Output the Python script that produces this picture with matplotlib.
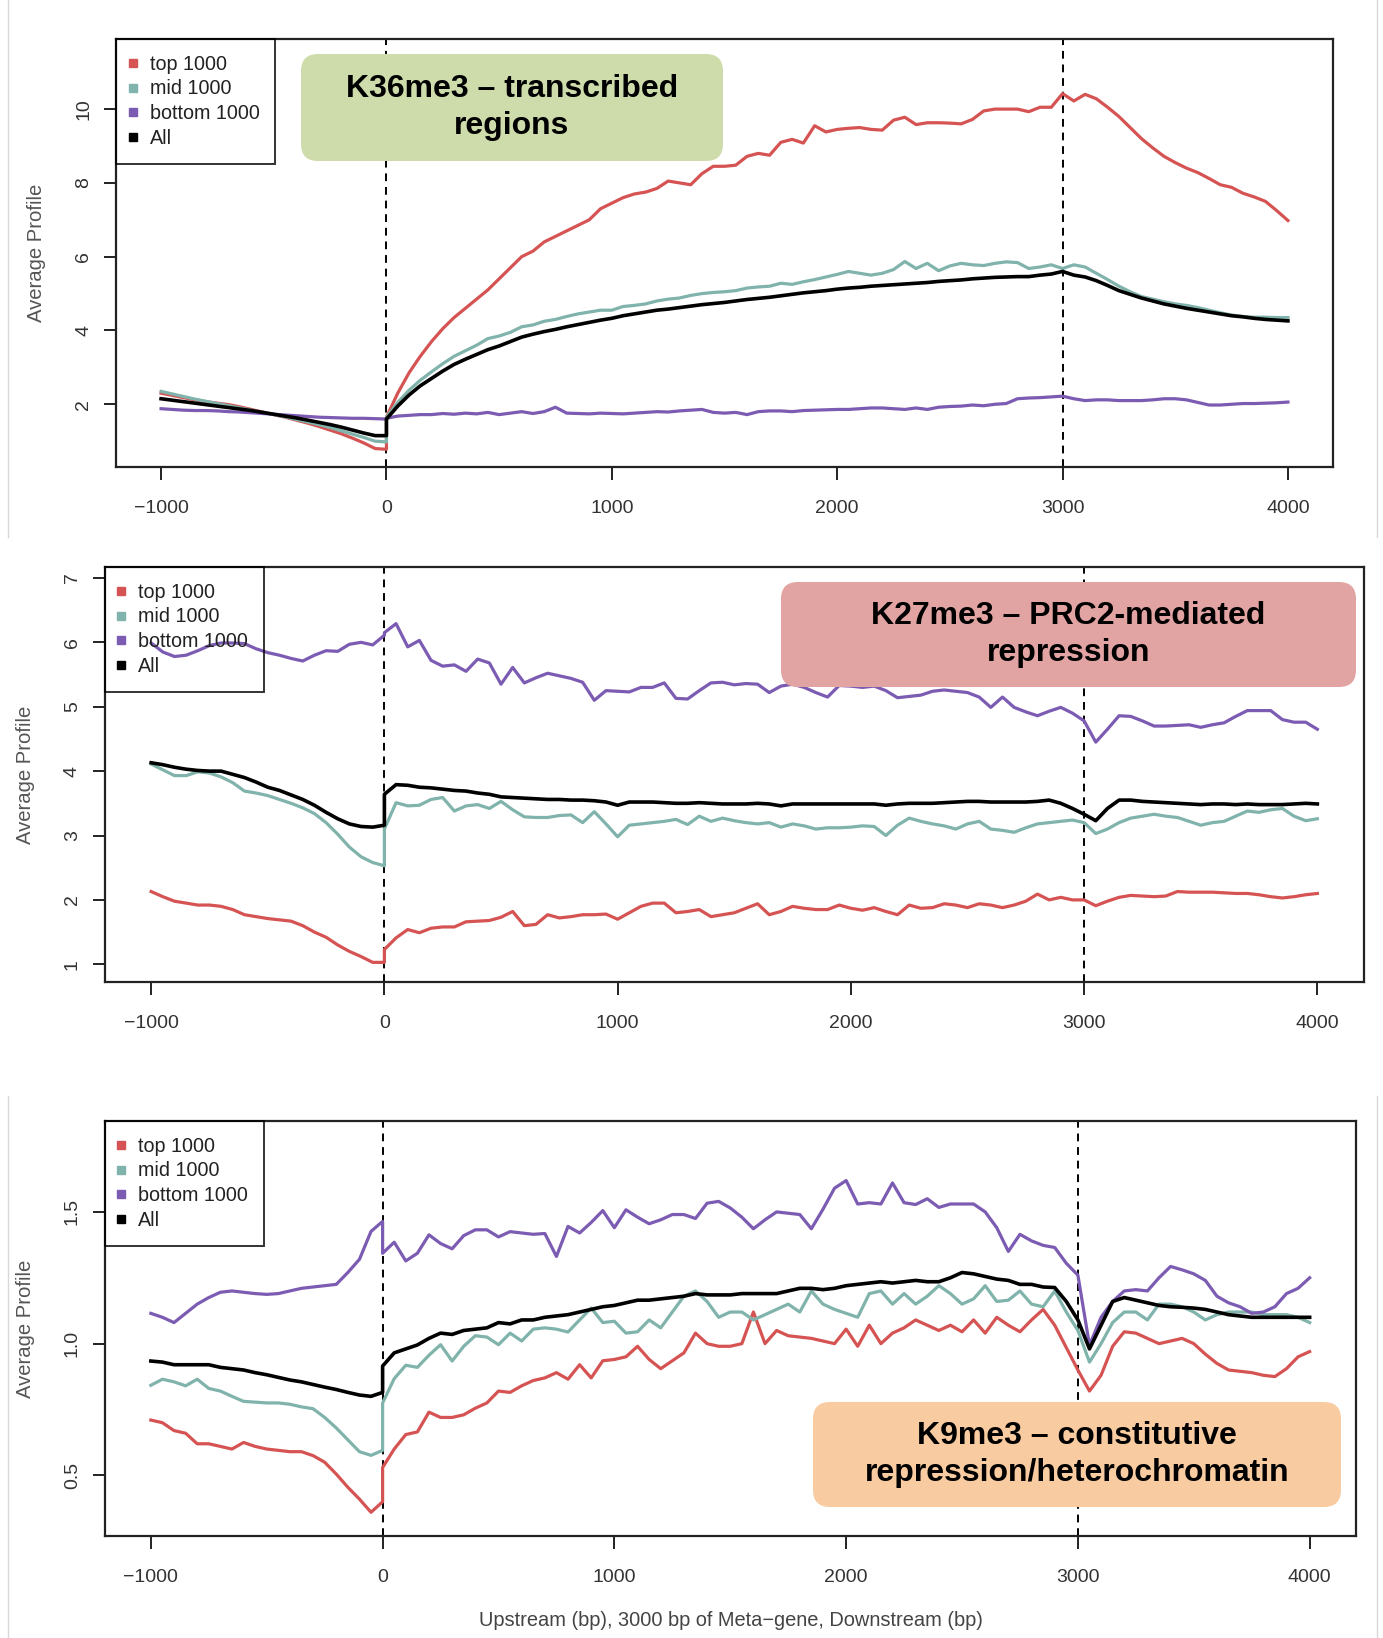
import numpy as np
import matplotlib
matplotlib.use("Agg")
import matplotlib.pyplot as plt
from matplotlib.patches import FancyBboxPatch
from matplotlib.lines import Line2D

plt.rcParams['font.family'] = ['Liberation Sans', 'DejaVu Sans']
plt.rcParams['axes.unicode_minus'] = False

# 50 bp bins: 1 kb upstream of TSS, then the scaled 3000 bp meta-gene and 1 kb downstream
X_UP = np.arange(-1000, 1, 50)
X_BODY = np.arange(0, 4001, 50)

GROUPS = ["top 1000", "mid 1000", "bottom 1000", "All"]
COLORS = ["#d65353", "#80b3ab", "#7c5bb3", "#000000"]

# ---- H3K36me3 ----
K36_TOP_UP = [2.30, 2.24, 2.18, 2.12, 2.07, 2.03, 1.99, 1.93, 1.86, 1.79, 1.72,
              1.65, 1.57, 1.49, 1.40, 1.30, 1.20, 1.08, 0.95, 0.80, 0.78]
K36_TOP_BODY = [1.65, 2.30, 2.85, 3.30, 3.70, 4.05, 4.35, 4.60, 4.85, 5.10,
                5.40, 5.70, 6.00, 6.15, 6.40, 6.55, 6.70, 6.85, 7.00, 7.30,
                7.45, 7.60, 7.70, 7.75, 7.85, 8.05, 8.00, 7.95, 8.25, 8.45,
                8.45, 8.48, 8.72, 8.80, 8.75, 9.10, 9.18, 9.08, 9.55, 9.38,
                9.45, 9.48, 9.50, 9.45, 9.43, 9.70, 9.78, 9.58, 9.63, 9.63,
                9.62, 9.60, 9.72, 9.95, 10.00, 10.00, 10.00, 9.93, 10.05, 10.05,
                10.42, 10.22, 10.40, 10.28, 10.05, 9.80, 9.50, 9.20, 8.95, 8.72,
                8.55, 8.40, 8.28, 8.12, 7.95, 7.88, 7.72, 7.62, 7.50, 7.25,
                6.98]
K36_MID_UP = [2.35, 2.28, 2.21, 2.14, 2.08, 2.02, 1.96, 1.90, 1.84, 1.78, 1.72,
              1.66, 1.59, 1.52, 1.45, 1.37, 1.28, 1.19, 1.10, 1.00, 0.98]
K36_MID_BODY = [1.65, 2.05, 2.38, 2.65, 2.88, 3.10, 3.30, 3.45, 3.60, 3.78,
                3.85, 3.95, 4.10, 4.15, 4.25, 4.30, 4.38, 4.45, 4.50, 4.55,
                4.55, 4.65, 4.68, 4.72, 4.80, 4.85, 4.88, 4.95, 5.00, 5.03,
                5.05, 5.08, 5.15, 5.18, 5.20, 5.28, 5.25, 5.32, 5.38, 5.45,
                5.52, 5.60, 5.55, 5.50, 5.55, 5.65, 5.87, 5.68, 5.82, 5.62,
                5.75, 5.82, 5.78, 5.76, 5.82, 5.86, 5.84, 5.68, 5.72, 5.78,
                5.68, 5.78, 5.72, 5.55, 5.38, 5.20, 5.05, 4.92, 4.85, 4.78,
                4.72, 4.68, 4.62, 4.55, 4.48, 4.42, 4.38, 4.36, 4.36, 4.35,
                4.35]
K36_BOTTOM_UP = [1.88, 1.86, 1.84, 1.83, 1.83, 1.82, 1.80, 1.79, 1.77, 1.75, 1.73,
                 1.71, 1.69, 1.67, 1.65, 1.64, 1.63, 1.62, 1.62, 1.61, 1.60]
K36_BOTTOM_BODY = [1.62, 1.68, 1.70, 1.72, 1.72, 1.75, 1.73, 1.76, 1.74, 1.78,
                   1.72, 1.76, 1.80, 1.75, 1.80, 1.92, 1.76, 1.75, 1.74, 1.76,
                   1.75, 1.74, 1.76, 1.78, 1.80, 1.79, 1.82, 1.84, 1.86, 1.78,
                   1.76, 1.78, 1.72, 1.80, 1.82, 1.82, 1.80, 1.83, 1.84, 1.85,
                   1.86, 1.86, 1.88, 1.90, 1.90, 1.88, 1.86, 1.90, 1.86, 1.92,
                   1.94, 1.95, 1.98, 1.96, 2.00, 2.02, 2.15, 2.17, 2.18, 2.20,
                   2.22, 2.15, 2.10, 2.12, 2.12, 2.10, 2.10, 2.10, 2.12, 2.15,
                   2.15, 2.12, 2.05, 1.98, 1.98, 2.00, 2.02, 2.02, 2.03, 2.04,
                   2.06]
K36_ALL_UP = [2.15, 2.11, 2.07, 2.03, 1.99, 1.95, 1.91, 1.87, 1.83, 1.78, 1.73,
              1.68, 1.63, 1.57, 1.51, 1.45, 1.38, 1.30, 1.22, 1.15, 1.15]
K36_ALL_BODY = [1.60, 1.95, 2.25, 2.50, 2.70, 2.90, 3.08, 3.22, 3.35, 3.48,
                3.58, 3.70, 3.82, 3.90, 3.97, 4.03, 4.10, 4.16, 4.22, 4.28,
                4.33, 4.40, 4.45, 4.50, 4.55, 4.58, 4.62, 4.66, 4.70, 4.73,
                4.76, 4.80, 4.84, 4.87, 4.90, 4.94, 4.98, 5.02, 5.05, 5.08,
                5.12, 5.15, 5.17, 5.20, 5.22, 5.24, 5.26, 5.28, 5.30, 5.33,
                5.35, 5.37, 5.40, 5.42, 5.44, 5.45, 5.46, 5.46, 5.50, 5.53,
                5.60, 5.50, 5.45, 5.35, 5.22, 5.08, 4.98, 4.88, 4.80, 4.72,
                4.66, 4.60, 4.55, 4.50, 4.45, 4.40, 4.37, 4.33, 4.30, 4.28,
                4.26]

# ---- H3K27me3 ----
K27_TOP_UP = [2.13, 2.05, 1.98, 1.95, 1.92, 1.92, 1.90, 1.85, 1.77, 1.74, 1.71,
              1.69, 1.67, 1.60, 1.50, 1.42, 1.30, 1.20, 1.12, 1.03, 1.03]
K27_TOP_BODY = [1.23, 1.41, 1.54, 1.49, 1.56, 1.58, 1.58, 1.66, 1.67, 1.68,
                1.73, 1.82, 1.60, 1.62, 1.77, 1.72, 1.74, 1.77, 1.77, 1.78,
                1.70, 1.80, 1.90, 1.95, 1.95, 1.80, 1.82, 1.85, 1.74, 1.77,
                1.80, 1.87, 1.94, 1.77, 1.82, 1.90, 1.87, 1.85, 1.85, 1.92,
                1.87, 1.84, 1.88, 1.82, 1.77, 1.92, 1.87, 1.88, 1.94, 1.92,
                1.88, 1.94, 1.92, 1.88, 1.92, 1.98, 2.09, 2.00, 2.04, 2.00,
                2.00, 1.91, 1.98, 2.04, 2.07, 2.06, 2.05, 2.06, 2.13, 2.12,
                2.12, 2.12, 2.11, 2.10, 2.10, 2.08, 2.05, 2.03, 2.05, 2.08,
                2.10]
K27_MID_UP = [4.11, 4.02, 3.93, 3.93, 3.99, 3.97, 3.91, 3.82, 3.69, 3.66, 3.62,
              3.56, 3.50, 3.43, 3.34, 3.20, 3.02, 2.82, 2.67, 2.58, 2.53]
K27_MID_BODY = [3.10, 3.51, 3.46, 3.47, 3.56, 3.59, 3.38, 3.46, 3.48, 3.42,
                3.53, 3.40, 3.29, 3.28, 3.28, 3.31, 3.32, 3.20, 3.37, 3.18,
                2.98, 3.16, 3.18, 3.20, 3.22, 3.25, 3.17, 3.30, 3.22, 3.27,
                3.23, 3.20, 3.18, 3.20, 3.13, 3.18, 3.15, 3.10, 3.12, 3.12,
                3.13, 3.15, 3.14, 3.00, 3.16, 3.27, 3.22, 3.18, 3.15, 3.10,
                3.18, 3.22, 3.10, 3.08, 3.05, 3.12, 3.18, 3.20, 3.22, 3.24,
                3.20, 3.03, 3.10, 3.20, 3.27, 3.30, 3.33, 3.30, 3.28, 3.22,
                3.16, 3.20, 3.22, 3.30, 3.38, 3.36, 3.40, 3.42, 3.30, 3.23,
                3.26]
K27_BOTTOM_UP = [5.99, 5.85, 5.78, 5.80, 5.87, 5.95, 5.99, 5.99, 5.98, 5.90, 5.84,
                 5.80, 5.75, 5.71, 5.80, 5.87, 5.86, 5.97, 6.00, 5.96, 6.11]
K27_BOTTOM_BODY = [6.15, 6.29, 5.93, 6.03, 5.72, 5.63, 5.65, 5.55, 5.74, 5.68,
                   5.35, 5.61, 5.37, 5.45, 5.52, 5.48, 5.44, 5.38, 5.10, 5.25,
                   5.24, 5.23, 5.30, 5.30, 5.37, 5.13, 5.12, 5.25, 5.37, 5.38,
                   5.34, 5.36, 5.35, 5.22, 5.32, 5.35, 5.30, 5.22, 5.15, 5.33,
                   5.32, 5.30, 5.32, 5.25, 5.14, 5.16, 5.18, 5.24, 5.26, 5.24,
                   5.22, 5.15, 4.99, 5.15, 4.99, 4.92, 4.86, 4.93, 4.99, 4.90,
                   4.78, 4.45, 4.65, 4.86, 4.85, 4.78, 4.70, 4.70, 4.71, 4.72,
                   4.68, 4.72, 4.75, 4.85, 4.94, 4.94, 4.94, 4.80, 4.76, 4.76,
                   4.65]
K27_ALL_UP = [4.13, 4.10, 4.06, 4.03, 4.01, 4.00, 4.00, 3.95, 3.90, 3.83, 3.75,
              3.70, 3.63, 3.56, 3.47, 3.36, 3.26, 3.18, 3.14, 3.13, 3.16]
K27_ALL_BODY = [3.64, 3.79, 3.78, 3.75, 3.74, 3.72, 3.70, 3.69, 3.66, 3.64,
                3.60, 3.59, 3.58, 3.57, 3.56, 3.56, 3.55, 3.55, 3.54, 3.52,
                3.47, 3.52, 3.52, 3.52, 3.51, 3.50, 3.50, 3.51, 3.50, 3.49,
                3.49, 3.49, 3.50, 3.49, 3.46, 3.49, 3.49, 3.49, 3.49, 3.49,
                3.49, 3.49, 3.49, 3.47, 3.49, 3.50, 3.50, 3.50, 3.51, 3.52,
                3.53, 3.53, 3.52, 3.52, 3.52, 3.52, 3.53, 3.55, 3.50, 3.42,
                3.33, 3.23, 3.42, 3.55, 3.55, 3.53, 3.52, 3.51, 3.50, 3.49,
                3.48, 3.49, 3.49, 3.48, 3.49, 3.48, 3.48, 3.48, 3.49, 3.50,
                3.49]

# ---- H3K9me3 ----
K9_TOP_UP = [0.71, 0.70, 0.67, 0.66, 0.62, 0.62, 0.61, 0.60, 0.625, 0.61, 0.60,
             0.595, 0.59, 0.59, 0.575, 0.55, 0.505, 0.455, 0.41, 0.36, 0.40]
K9_TOP_BODY = [0.53, 0.60, 0.655, 0.665, 0.74, 0.72, 0.72, 0.73, 0.755, 0.775,
               0.82, 0.815, 0.84, 0.86, 0.87, 0.89, 0.865, 0.92, 0.87, 0.935,
               0.94, 0.95, 0.99, 0.94, 0.905, 0.935, 0.965, 1.04, 1.00, 0.99,
               0.99, 1.00, 1.12, 1.00, 1.05, 1.03, 1.025, 1.02, 1.01, 1.00,
               1.055, 0.99, 1.07, 1.00, 1.04, 1.06, 1.09, 1.07, 1.05, 1.07,
               1.045, 1.09, 1.04, 1.10, 1.07, 1.045, 1.09, 1.13, 1.07, 0.985,
               0.90, 0.82, 0.88, 0.99, 1.045, 1.04, 1.02, 1.00, 1.01, 1.02,
               1.00, 0.96, 0.925, 0.90, 0.895, 0.89, 0.88, 0.875, 0.905, 0.95,
               0.97]
K9_MID_UP = [0.842, 0.865, 0.855, 0.84, 0.865, 0.83, 0.82, 0.80, 0.781, 0.778, 0.775,
             0.775, 0.77, 0.76, 0.753, 0.72, 0.68, 0.635, 0.59, 0.576, 0.595]
K9_MID_BODY = [0.775, 0.867, 0.918, 0.91, 0.956, 0.996, 0.934, 0.99, 1.03, 1.025,
               0.996, 1.04, 1.01, 1.055, 1.06, 1.055, 1.044, 1.09, 1.135, 1.08,
               1.085, 1.04, 1.045, 1.09, 1.06, 1.12, 1.18, 1.20, 1.16, 1.10,
               1.12, 1.12, 1.09, 1.11, 1.13, 1.15, 1.12, 1.20, 1.15, 1.13,
               1.115, 1.10, 1.19, 1.20, 1.15, 1.19, 1.15, 1.18, 1.22, 1.19,
               1.15, 1.17, 1.22, 1.16, 1.165, 1.20, 1.15, 1.14, 1.20, 1.12,
               1.05, 0.93, 1.00, 1.08, 1.12, 1.12, 1.09, 1.15, 1.15, 1.14,
               1.12, 1.09, 1.11, 1.12, 1.12, 1.12, 1.11, 1.11, 1.11, 1.10,
               1.08]
K9_BOTTOM_UP = [1.115, 1.10, 1.08, 1.115, 1.15, 1.175, 1.195, 1.20, 1.195, 1.19, 1.187,
                1.19, 1.20, 1.21, 1.215, 1.22, 1.225, 1.27, 1.32, 1.426, 1.464]
K9_BOTTOM_BODY = [1.343, 1.385, 1.314, 1.343, 1.413, 1.38, 1.36, 1.41, 1.432, 1.432,
                  1.405, 1.425, 1.42, 1.415, 1.418, 1.331, 1.445, 1.42, 1.46, 1.505,
                  1.44, 1.508, 1.48, 1.455, 1.47, 1.49, 1.49, 1.475, 1.533, 1.54,
                  1.515, 1.48, 1.436, 1.47, 1.50, 1.495, 1.49, 1.436, 1.51, 1.59,
                  1.619, 1.53, 1.535, 1.53, 1.61, 1.535, 1.528, 1.55, 1.517, 1.53,
                  1.53, 1.53, 1.50, 1.44, 1.35, 1.415, 1.39, 1.373, 1.365, 1.305,
                  1.26, 0.994, 1.10, 1.16, 1.20, 1.205, 1.20, 1.25, 1.293, 1.28,
                  1.265, 1.24, 1.18, 1.155, 1.14, 1.115, 1.12, 1.14, 1.19, 1.21,
                  1.25]
K9_ALL_UP = [0.934, 0.93, 0.92, 0.92, 0.92, 0.92, 0.91, 0.905, 0.90, 0.89, 0.882,
             0.872, 0.862, 0.855, 0.845, 0.835, 0.826, 0.815, 0.805, 0.80, 0.815]
K9_ALL_BODY = [0.915, 0.965, 0.98, 0.995, 1.02, 1.04, 1.035, 1.05, 1.055, 1.06,
               1.08, 1.075, 1.09, 1.09, 1.10, 1.105, 1.11, 1.12, 1.13, 1.14,
               1.145, 1.155, 1.165, 1.165, 1.17, 1.175, 1.18, 1.19, 1.185, 1.185,
               1.185, 1.19, 1.19, 1.19, 1.19, 1.20, 1.21, 1.21, 1.205, 1.21,
               1.22, 1.225, 1.23, 1.235, 1.23, 1.235, 1.24, 1.235, 1.235, 1.25,
               1.27, 1.265, 1.255, 1.245, 1.24, 1.225, 1.225, 1.215, 1.213, 1.16,
               1.09, 0.98, 1.07, 1.16, 1.175, 1.165, 1.155, 1.145, 1.14, 1.138,
               1.135, 1.13, 1.12, 1.11, 1.105, 1.10, 1.10, 1.10, 1.10, 1.10,
               1.10]

W, H = 1383, 1638
fig = plt.figure(figsize=(W / 100, H / 100), dpi=100)
fig.patch.set_facecolor("white")


def px_rect(left, top, right, bottom):
    return [left / W, 1 - bottom / H, (right - left) / W, (bottom - top) / H]


def draw_panel(rect, series, ylim, yticks, yticklabels):
    ax = fig.add_axes(px_rect(*rect))
    for (up, body), color in zip(series, COLORS):
        x = np.concatenate([X_UP, X_BODY])
        y = np.concatenate([up, body])
        lw = 2.6 if color == "#000000" else 2.3
        ax.plot(x, y, color=color, lw=lw, solid_joinstyle="round")
    for xv in (0, 3000):
        ax.axvline(xv, color="black", lw=1.4, ls=(0, (4, 3)), zorder=1)
    ax.set_xlim(-1200, 4200)
    ax.set_ylim(*ylim)
    ax.set_xticks([-1000, 0, 1000, 2000, 3000, 4000])
    ax.set_xticklabels(["\u22121000", "0", "1000", "2000", "3000", "4000"])
    ax.set_yticks(yticks)
    ax.set_yticklabels(yticklabels)
    ax.tick_params(axis="both", direction="out", length=9, width=1.4,
                   labelsize=14, labelcolor="#333333", color="#222222")
    ax.tick_params(axis="x", pad=14.5)
    ax.tick_params(axis="y", pad=8, labelrotation=90)
    for lab in ax.get_yticklabels():
        lab.set_va("center")
    for sp in ax.spines.values():
        sp.set_linewidth(1.6)
        sp.set_color("#222222")
    handles = [Line2D([], [], marker="s", ls="none", color=c, markersize=5.5)
               for c in COLORS]
    leg = ax.legend(handles, GROUPS, loc="upper left", borderaxespad=0,
                    fancybox=False, edgecolor="black", facecolor="none",
                    fontsize=14.2, handlelength=0.1, handletextpad=0.8,
                    borderpad=0.8, labelspacing=0.29)
    leg.get_frame().set_linewidth(1.4)
    for t in leg.get_texts():
        t.set_color("#222222")
    # y label sits ~79 px left of the frame
    fig.text((rect[0] - 79) / W, 1 - (rect[1] + rect[3]) / 2 / H, "Average Profile",
             rotation=90, ha="center", va="center", fontsize=14.6, color="#555555")
    return ax


def label_box(left, top, right, bottom, color, text):
    box = FancyBboxPatch((left / 100, (H - bottom) / 100), (right - left) / 100,
                         (bottom - top) / 100,
                         boxstyle="round,pad=0,rounding_size=0.17",
                         transform=fig.dpi_scale_trans, fc=color, ec="none", zorder=5)
    fig.add_artist(box)
    fig.text((left + right) / 2 / W, 1 - (top + bottom) / 2 / H, text,
             ha="center", va="center", fontsize=23, fontweight="bold",
             linespacing=1.27, color="black", zorder=6)


draw_panel((116, 39, 1333, 467),
           [(K36_TOP_UP, K36_TOP_BODY), (K36_MID_UP, K36_MID_BODY),
            (K36_BOTTOM_UP, K36_BOTTOM_BODY), (K36_ALL_UP, K36_ALL_BODY)],
           (0.30, 11.9), [2, 4, 6, 8, 10], ["2", "4", "6", "8", "10"])

draw_panel((104.5, 567, 1364, 982),
           [(K27_TOP_UP, K27_TOP_BODY), (K27_MID_UP, K27_MID_BODY),
            (K27_BOTTOM_UP, K27_BOTTOM_BODY), (K27_ALL_UP, K27_ALL_BODY)],
           (0.725, 7.17), [1, 2, 3, 4, 5, 6, 7], ["1", "2", "3", "4", "5", "6", "7"])

draw_panel((104.5, 1121, 1356, 1536),
           [(K9_TOP_UP, K9_TOP_BODY), (K9_MID_UP, K9_MID_BODY),
            (K9_BOTTOM_UP, K9_BOTTOM_BODY), (K9_ALL_UP, K9_ALL_BODY)],
           (0.27, 1.845), [0.5, 1.0, 1.5], ["0.5", "1.0", "1.5"])

fig.text(731 / W, 1 - 1621 / H, "Upstream (bp), 3000 bp of Meta\u2212gene, Downstream (bp)",
         ha="center", va="center", fontsize=14.4, color="#444444")

label_box(301, 54, 723, 161, "#cedcab", "K36me3 \u2013 transcribed\nregions")
label_box(781, 582, 1356, 687, "#e2a4a3", "K27me3 \u2013 PRC2-mediated\nrepression")
label_box(813, 1402, 1341, 1507, "#f9cba1", "K9me3 \u2013 constitutive\nrepression/heterochromatin")

# faint edges of the stacked panels
for x in (8, 1377):
    fig.add_artist(Line2D([x / W, x / W], [1, 1 - 537 / H], transform=fig.transFigure,
                          color="#d8d8d8", lw=1))
    fig.add_artist(Line2D([x / W, x / W], [1 - 1096 / H, 0], transform=fig.transFigure,
                          color="#d8d8d8", lw=1))

fig.savefig("out.png", dpi=100, facecolor="white")
